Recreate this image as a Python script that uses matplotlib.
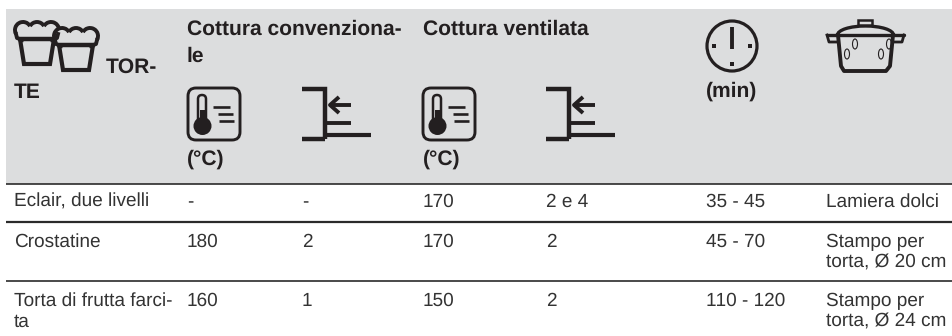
import matplotlib
matplotlib.use('Agg')
from matplotlib import pyplot as plt
from matplotlib.patches import Rectangle, FancyBboxPatch, Circle, Ellipse, Arc

plt.rcParams['font.family'] = ['Liberation Sans', 'DejaVu Sans']
plt.rcParams['text.hinting'] = 'no_hinting'
plt.rcParams['text.hinting_factor'] = 1

col_x = [14, 187, 302, 423, 546, 706, 826]
row_y = [207, 247, 306]
line_gap = 21
dish = ['Eclair, due livelli', 'Crostatine', 'Torta di frutta farci-\nta']
conv_temp = ['-', '180', '160']
conv_level = ['-', '2', '1']
vent_temp = ['170', '170', '150']
vent_level = ['2 e 4', '2', '2']
minutes = ['35 - 45', '45 - 70', '110 - 120']
pan = ['Lamiera dolci', 'Stampo per\ntorta, Ø 20 cm', 'Stampo per\ntorta, Ø 24 cm']

ink = '#231f20'
body = '#333333'
grey = '#dcddde'

fig = plt.figure(figsize=(9.53, 3.36), dpi=100)
ax = fig.add_axes([0, 0, 1, 1])
ax.set_xlim(0, 953)
ax.set_ylim(336, 0)
ax.axis('off')

ax.add_patch(Rectangle((6, 9), 947, 175, fc=grey, ec='none'))
for y, lw in [(184, 1.2), (222, 1.6), (281, 1.2)]:
    ax.plot([6, 953], [y, y], color='#2b2b2b', lw=lw, solid_capstyle='butt')


def head(x, y, s):
    ax.text(x, y, s, fontsize=15.1, fontweight='bold', color=ink, va='baseline', ha='left')


def thermo(x, y):
    # x, y = top left of the rounded box
    ax.add_patch(FancyBboxPatch((x, y), 52, 52, boxstyle='round,pad=0,rounding_size=8',
                                fc='none', ec=ink, lw=2.1))
    ax.add_patch(FancyBboxPatch((x + 10, y + 7), 8, 30, boxstyle='round,pad=0,rounding_size=4',
                                fc='none', ec=ink, lw=1.8))
    ax.add_patch(Rectangle((x + 12, y + 22), 5, 14, fc=ink, ec='none'))
    ax.add_patch(Circle((x + 14.5, y + 38), 9, fc=ink, ec='none'))
    for x0, x1, yy in [(25, 42, 19), (30, 45, 26), (31, 46, 33)]:
        ax.plot([x + x0, x + x1], [y + yy, y + yy], color=ink, lw=1.9, solid_capstyle='butt')


def level(x, y):
    # x, y = left end of the top bar
    ax.plot([x, x + 23, x + 23], [y, y, y + 50], color=ink, lw=3.2, solid_joinstyle='miter', solid_capstyle='butt')
    ax.plot([x, x + 23], [y + 50, y + 50], color=ink, lw=3.2, solid_capstyle='butt')
    ax.plot([x + 23, x + 69], [y + 46, y + 46], color=ink, lw=3.0, solid_capstyle='butt')
    ax.plot([x + 23, x + 49], [y + 33.5, y + 33.5], color=ink, lw=2.8, solid_capstyle='butt')
    ax.plot([x + 29, x + 49], [y + 16, y + 16], color=ink, lw=2.8, solid_capstyle='butt')
    ax.plot([x + 37, x + 28, x + 37], [y + 8, y + 16, y + 24], color=ink, lw=2.8, solid_capstyle='butt')


def muffin(x, y):
    # x, y = left edge and top of the cake dome
    for dx in [9, 23, 37]:
        ax.add_patch(Circle((x + dx, y + 9), 8, fc=grey, ec='none'))
    ax.add_patch(Rectangle((x + 2, y + 9), 42, 36, fc=grey, ec='none'))
    for dx, t1, t2 in [(9, 150, 331), (23, 209, 331), (37, 209, 390)]:
        ax.add_patch(Arc((x + dx, y + 9), 16, 16, theta1=t1, theta2=t2, ec=ink, lw=2.8, fc='none'))
    ax.plot([x + 2, x + 3, x + 8], [y + 13, y + 17, y + 19], color=ink, lw=2.8)
    ax.plot([x + 44, x + 43, x + 38], [y + 13, y + 17, y + 19], color=ink, lw=2.8)
    ax.plot([x + 4, x + 42], [y + 18, y + 18], color=ink, lw=3.2, solid_capstyle='butt')
    ax.plot([x + 6, x + 10, x + 36, x + 40], [y + 18, y + 43, y + 43, y + 18], color=ink, lw=3.0,
            solid_joinstyle='miter', solid_capstyle='butt')


def clock(cx, cy):
    ax.add_patch(Circle((cx, cy), 25, fc='none', ec=ink, lw=2.3))
    ax.plot([cx, cx], [cy - 19, cy + 3], color=ink, lw=2.8, solid_capstyle='butt')
    for dx, dy in [(-18, 0), (18, 0), (0, 18)]:
        ax.add_patch(Rectangle((cx + dx - 2, cy + dy - 2), 4, 4, fc=ink, ec='none'))


def pot(x, y):
    ax.plot([x + 1, x + 78], [y + 16, y + 16], color=ink, lw=2.4, solid_capstyle='round')
    ax.plot([x + 12, x + 15, x + 18, x + 60, x + 64, x + 67],
            [y + 16, y + 47, y + 52, y + 52, y + 47, y + 16], color=ink, lw=2.8, solid_joinstyle='round')
    ax.add_patch(Arc((x + 39.5, y + 16), 56, 18, theta1=180, theta2=360, ec=ink, lw=2.4, fc='none'))
    ax.add_patch(Rectangle((x + 32, y + 1), 14, 5, fc=grey, ec=ink, lw=1.8))
    ax.plot([x + 1, x + 3, x + 11], [y + 16, y + 23, y + 23], color=ink, lw=2.0)
    ax.plot([x + 78, x + 76, x + 68], [y + 16, y + 23, y + 23], color=ink, lw=2.0)
    for dx, dy in [(21, 35), (29, 25), (55, 35), (63, 25)]:
        ax.add_patch(Ellipse((x + dx, y + dy), 5, 10, fc='none', ec=ink, lw=0.8))


muffin(14, 21)
muffin(53, 27)
head(106, 73, 'TOR-')
head(14, 98, 'TE')
head(187, 35, 'Cottura convenziona-')
head(187, 62, 'le')
head(423, 35, 'Cottura ventilata')
thermo(188, 88)
thermo(423, 88)
level(302, 89)
level(546, 89)
head(187, 165, '(°C)')
head(423, 165, '(°C)')
clock(732, 46)
head(706, 97, '(min)')
pot(826, 19)

columns = [dish, conv_temp, conv_level, vent_temp, vent_level, minutes, pan]
for x, col in zip(col_x, columns):
    for y, s in zip(row_y, col):
        for i, part in enumerate(s.split('\n')):
            ax.text(x, y + i * line_gap, part, fontsize=13.5, color=body, va='baseline', ha='left')

fig.savefig('out.png', dpi=100)
